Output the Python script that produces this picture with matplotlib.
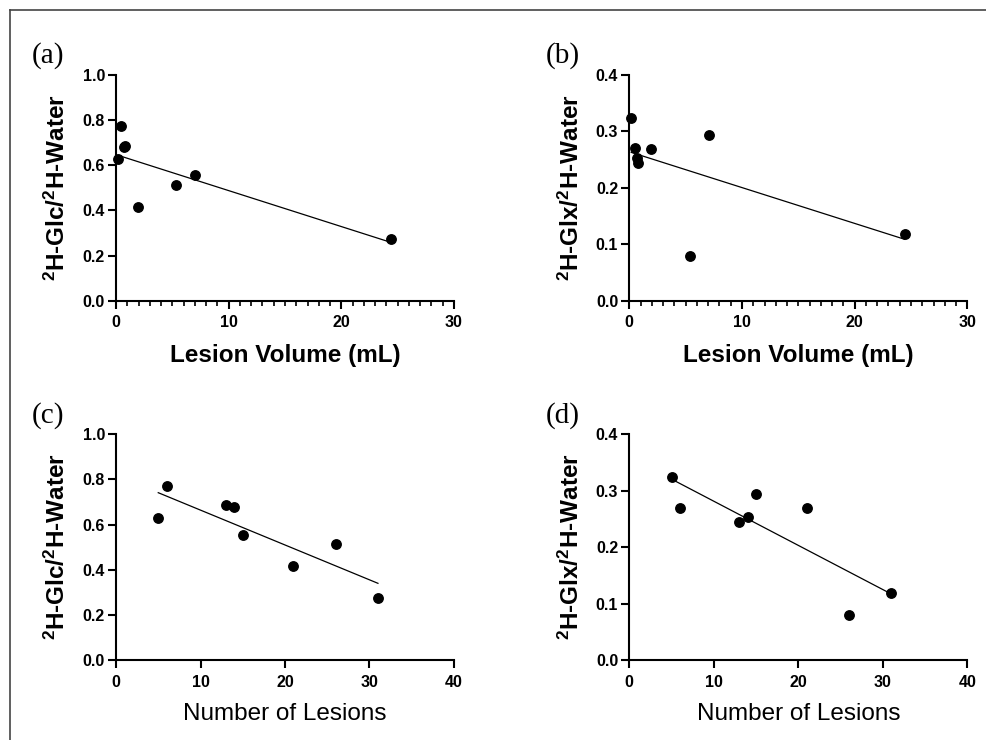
import numpy as np
from matplotlib import pyplot as plt
from matplotlib.lines import Line2D
from matplotlib.ticker import MultipleLocator

'''
DATA (read off the figure, one entry per subject)
'''
lesion_volume = [0.17, 0.47, 0.77, 0.72, 7.03, 1.95, 5.35, 24.45]
lesion_count = [5, 6, 13, 14, 15, 21, 26, 31]
glc_ratio = [0.630, 0.773, 0.685, 0.680, 0.555, 0.415, 0.514, 0.273]
glx_ratio = [0.324, 0.270, 0.244, 0.253, 0.294, 0.269, 0.079, 0.119]

glc_label = r'$\mathregular{^2}$H-Glc/$\mathregular{^2}$H-Water'
glx_label = r'$\mathregular{^2}$H-Glx/$\mathregular{^2}$H-Water'

plt.rcParams['font.family'] = ['Liberation Sans', 'DejaVu Sans']

W, H = 987, 740


'''
PLOTTING
'''
def scatter_panel(fig, rect, x, y, xmax, ymax, ystep, xlabel, ylabel,
                  tag, xlabel_bold=True, minor_x=False):
    ax = fig.add_axes(rect)

    ax.plot(x, y, linestyle='none', marker='o', markersize=6.8,
            color='black', clip_on=False, zorder=3)

    # simple linear regression, drawn over the range of the data
    slope, intercept = np.polyfit(x, y, 1)
    xs = np.array([min(x), max(x)])
    ax.plot(xs, slope * xs + intercept, color='black', linewidth=0.9)

    ax.set_xlim(0, xmax)
    ax.set_ylim(0, ymax)
    ax.xaxis.set_major_locator(MultipleLocator(10))
    ax.yaxis.set_major_locator(MultipleLocator(ystep))
    if minor_x:
        ax.xaxis.set_minor_locator(MultipleLocator(1))
    ax.yaxis.set_major_formatter(plt.FormatStrFormatter('%.1f'))

    for side in ['top', 'right']:
        ax.spines[side].set_visible(False)
    for side in ['left', 'bottom']:
        ax.spines[side].set_linewidth(1.5)

    ax.tick_params(which='major', length=6, width=1.5, labelsize=11.5)
    ax.tick_params(axis='y', which='major', pad=2)
    ax.tick_params(axis='x', which='major', pad=4.5)
    ax.tick_params(which='minor', length=3.5, width=1.2)
    for lab in ax.get_xticklabels() + ax.get_yticklabels():
        lab.set_fontweight('bold')

    ax.set_ylabel(ylabel, fontsize=17.5, fontweight='bold')
    ax.yaxis.set_label_coords(-0.135, 0.5)
    ax.set_xlabel(xlabel, fontsize=17.5,
                  fontweight='bold' if xlabel_bold else 'normal')
    ax.xaxis.set_label_coords(0.5, -0.19)

    # panel letter sits up and to the left of the axes
    x0, y1 = rect[0], rect[1] + rect[3]
    fig.text(x0 - 84 / W, y1 + 19 / H, tag, fontsize=21,
             family='Liberation Serif', va='center', ha='left')
    return ax


def main():
    fig = plt.figure(figsize=(W / 100, H / 100), dpi=100)

    aw, ah = 338 / W, 225.7 / H
    left_a, left_b = 116 / W, 629.3 / W
    bot_top, bot_low = 1 - 300.7 / H, 1 - 660 / H

    scatter_panel(fig, [left_a, bot_top, aw, ah], lesion_volume, glc_ratio,
                  30, 1.0, 0.2, 'Lesion Volume (mL)', glc_label, '(a)',
                  minor_x=True)
    scatter_panel(fig, [left_b, bot_top, aw, ah], lesion_volume, glx_ratio,
                  30, 0.4, 0.1, 'Lesion Volume (mL)', glx_label, '(b)',
                  minor_x=True)
    scatter_panel(fig, [left_a, bot_low, aw, ah], lesion_count, glc_ratio,
                  40, 1.0, 0.2, 'Number of Lesions', glc_label, '(c)',
                  xlabel_bold=False)
    scatter_panel(fig, [left_b, bot_low, aw, ah], lesion_count, glx_ratio,
                  40, 0.4, 0.1, 'Number of Lesions', glx_label, '(d)',
                  xlabel_bold=False)

    # frame around the figure (only left and top show in the crop)
    fig.add_artist(Line2D([9.5 / W, 9.5 / W], [0, 1 - 10 / H],
                          transform=fig.transFigure, color='#444444',
                          linewidth=1.2))
    fig.add_artist(Line2D([9.5 / W, 1], [1 - 10 / H, 1 - 10 / H],
                          transform=fig.transFigure, color='#444444',
                          linewidth=1.2))

    fig.savefig('out.png', dpi=100)


if __name__ == '__main__':
    main()
